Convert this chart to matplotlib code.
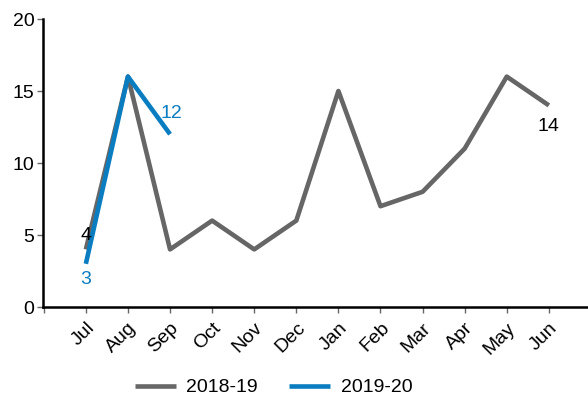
import numpy as np
import matplotlib
matplotlib.use("Agg")
import matplotlib.pyplot as plt

plt.rcParams["font.family"] = ["Liberation Sans", "DejaVu Sans"]

months = ["Jul", "Aug", "Sep", "Oct", "Nov", "Dec", "Jan", "Feb", "Mar", "Apr", "May", "Jun"]
s2018 = [4, 16, 4, 6, 4, 6, 15, 7, 8, 11, 16, 14]
s2019 = [3, 16, 12]

GREY = "#666666"
BLUE = "#0a7dc1"
FS = 14

fig = plt.figure(figsize=(5.88, 4.0), dpi=100)
ax = fig.add_axes([0.073, 0.2325, 0.927, 0.72])

x = np.arange(len(months))
ax.plot(x, s2018, color=GREY, lw=3.3, label="2018-19", solid_capstyle="butt")
ax.plot(x[:len(s2019)], s2019, color=BLUE, lw=3.3, label="2019-20", solid_capstyle="butt")

# data labels
ax.annotate(str(s2018[0]), (0, s2018[0]), xytext=(0, 10), textcoords="offset points",
            ha="center", va="center", fontsize=FS, color="black")
ax.annotate(str(s2019[0]), (0, s2019[0]), xytext=(0, -11), textcoords="offset points",
            ha="center", va="center", fontsize=FS, color=BLUE)
ax.annotate(str(s2019[2]), (2, s2019[2]), xytext=(1, 15), textcoords="offset points",
            ha="center", va="center", fontsize=FS, color=BLUE)
ax.annotate(str(s2018[-1]), (11, s2018[-1]), xytext=(0, -15), textcoords="offset points",
            ha="center", va="center", fontsize=FS, color="black")

ax.set_xlim(-1.02, 11.93)
ax.set_ylim(0, 20)
ax.set_yticks([0, 5, 10, 15, 20])
ax.set_xticks(np.arange(-1, len(months)))
ax.set_xticklabels([""] + months, rotation=45, ha="right", rotation_mode="anchor")
ax.tick_params(axis="both", labelsize=FS, length=4, color=GREY, width=1)
ax.tick_params(axis="x", pad=5)
ax.tick_params(axis="y", pad=2)

for side in ["top", "right"]:
    ax.spines[side].set_visible(False)
for side in ["left", "bottom"]:
    ax.spines[side].set_linewidth(1.8)
    ax.spines[side].set_color("black")

fig.legend(loc="lower center", bbox_to_anchor=(0.465, -0.035), ncol=2, frameon=False,
           fontsize=FS, handlelength=2.1, columnspacing=1.6, handletextpad=0.55)

fig.savefig("out.png", dpi=100)
